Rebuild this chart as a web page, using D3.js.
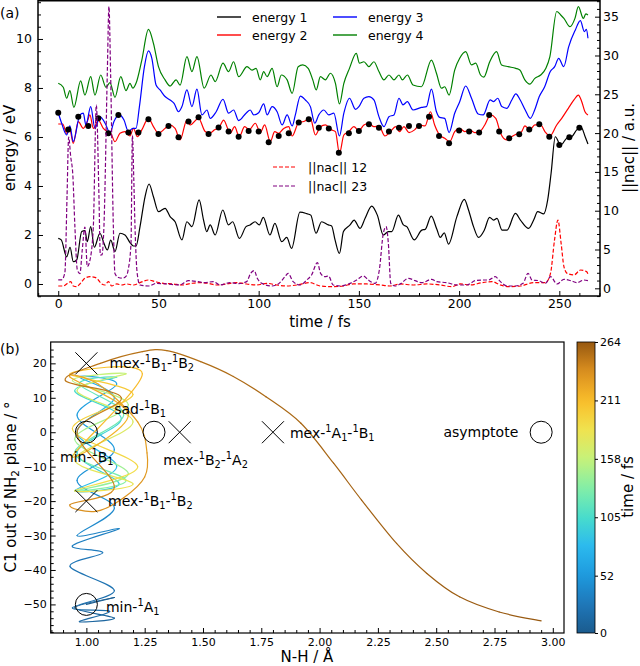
<!DOCTYPE html>
<html>
<head>
<meta charset="utf-8">
<script src="https://cdn.jsdelivr.net/npm/d3@7"></script>
<style>
  body { margin: 0; background: #fff; }
  text { font-family: "DejaVu Sans", sans-serif; fill: #000; }
</style>
</head>
<body>
<svg id="chart" width="640" height="666"></svg>
<script>
// ---------- panel (a): energies (eV) and nac norms (a.u.) vs time (fs) ----------
const energy1 = [[0,1.86],[1.5,1.8],[4.2,1.11],[5.9,1.5],[7.5,0.91],[9.2,0.98],[11.7,2.14],[13.3,2.18],[14.5,1.73],[16.2,2.34],[18,1.5],[20.8,2.07],[22.8,1.66],[24.5,1.39],[26.2,1.79],[28.3,1.32],[30.8,2.07],[33.3,2.0],[35.8,1.69],[37.5,1.55],[38.8,1.55],[40.8,2.34],[43.3,3.56],[45.3,4.08],[47.5,3.56],[50,2.95],[53.3,3.09],[55.8,2.75],[58.3,2.54],[61.7,1.8],[64.2,2.54],[66.7,2.34],[70.3,3.43],[72.5,2.61],[74.1,2.14],[75.8,2.41],[78.3,2.0],[82.1,3.02],[84.9,2.41],[87,2.54],[90.4,1.86],[93.7,2.34],[95.7,2.41],[98.2,2.54],[100.3,2.41],[102.3,2.72],[105.6,2.0],[108.1,2.47],[111.5,1.73],[114,1.9],[116.4,1.45],[120.6,2.93],[124,2.87],[126,2.81],[128.6,2.07],[131.4,2.54],[134.8,2.41],[136.4,2.37],[138.1,1.8],[140.3,1.25],[142.3,2.14],[145.6,2.41],[147.6,2.61],[150.6,2.27],[153.1,2.68],[156.4,3.18],[159.2,2.81],[162.2,2.0],[164.7,2.14],[166.4,2.14],[169.7,2.81],[172.2,2.41],[173.9,2.34],[177.6,1.8],[181.4,2.2],[183.1,2.23],[186.1,2.77],[188.9,2.23],[190.6,1.9],[192.6,2.09],[194.7,1.63],[198.9,2.75],[202.6,3.45],[204.7,3.02],[207.2,2.34],[209.7,1.9],[212.6,2.2],[215.2,2.72],[217.2,2.61],[218.9,2.68],[221.4,2.2],[223.9,2.2],[228.1,2.88],[230.6,2.61],[234.7,2.27],[237.2,2.61],[239.2,2.95],[242.2,2.86],[244.2,3.43],[245.9,4.52],[248,6.01],[250.7,5.67],[253.7,5.95],[256.2,6.01],[258.7,6.29],[260.9,6.39],[262.9,6.01],[264.3,5.71]];

const energy2 = [[0,6.53],[2.2,6.53],[4.2,6.15],[5.8,6.29],[7.5,5.74],[10,6.63],[12.5,6.35],[14.5,6.63],[15.8,6.9],[17.5,6.35],[20,6.69],[22.5,6.35],[24.5,6.22],[26.2,6.15],[28.3,5.81],[30.8,6.15],[33.3,6.22],[35.8,6.04],[37.5,6.35],[39.5,6.01],[41.7,6.29],[45,6.76],[47.5,6.42],[50,6.15],[53.3,6.35],[55.5,6.49],[58.3,6.35],[60.8,5.88],[64.2,6.69],[65.8,6.49],[70,6.76],[73.3,6.22],[75.5,6.15],[78,6.29],[80.5,6.42],[82.5,6.69],[85.8,6.15],[88,6.42],[90.3,6.01],[93,6.42],[95.3,6.29],[98.3,6.56],[100.8,6.18],[103,6.49],[105.8,5.81],[108,6.22],[110,6.15],[112.5,6.35],[115,6.42],[116.7,6.04],[120,6.59],[122.5,6.63],[125.8,6.76],[128.3,6.08],[130.8,6.42],[133.3,6.49],[136.3,6.29],[138.3,6.22],[140.3,5.33],[142.5,6.08],[145,6.22],[147.5,6.42],[150,6.26],[152.5,6.49],[155,6.56],[157.5,6.42],[160,6.45],[163,6.04],[165.8,6.22],[168.3,6.42],[170.3,6.22],[172.5,6.42],[175,6.18],[177.8,6.29],[180.3,6.49],[183,6.45],[185.7,7.03],[187.8,6.49],[190.3,6.08],[192.8,5.95],[195.3,5.81],[197.8,6.22],[200.3,6.35],[202.8,6.22],[205.3,6.29],[207.8,6.18],[210.3,6.22],[212.8,6.49],[215.7,6.9],[218.3,6.76],[220.7,6.15],[223.7,5.88],[226.2,6.01],[228.7,6.12],[231.2,6.22],[232.8,6.45],[235.3,6.29],[237.8,6.49],[240.7,6.49],[242.8,6.22],[245.3,6.04],[248.7,6.49],[251.2,6.76],[254.5,7.17],[257.3,7.51],[259.5,7.71],[261.2,7.44],[262.8,7.03],[264.3,6.9]];

const energy3 = [[0,6.99],[1.7,6.56],[4.2,6.08],[5.8,6.45],[7.5,5.81],[10.8,6.9],[12.5,6.97],[13.8,6.49],[16.2,7.24],[18.3,6.35],[20.8,6.83],[23.8,6.49],[25.8,6.15],[27.8,6.63],[30.5,6.9],[32.8,6.69],[35,6.22],[37.2,6.35],[38.8,6.35],[40.5,7.24],[43,8.87],[45,9.51],[46.7,9.21],[48.8,8.12],[50.8,7.92],[53.3,7.65],[55.8,7.51],[57.8,7.37],[60,7.03],[61.7,7.24],[64.2,7.92],[66.7,7.24],[69.2,7.95],[71.7,6.9],[74.2,7.1],[75.8,6.76],[78.8,7.03],[82.2,7.54],[85,6.97],[87.5,7.1],[90,6.67],[93.7,6.97],[95.8,7.1],[97.5,6.9],[100,6.99],[102.5,7.35],[104.2,6.9],[106.7,7.24],[109.2,7.03],[111.7,6.49],[114.2,6.9],[116.7,6.45],[118.3,6.9],[120.8,7.67],[123.3,7.51],[125.8,7.24],[128,6.56],[130,6.9],[132.5,7.1],[135,6.9],[137.5,6.97],[140.3,6.04],[142.5,6.97],[145.3,7.58],[148.3,7.13],[150,7.24],[152.5,7.58],[155,7.65],[157.5,7.51],[160,6.83],[162.5,6.42],[165,6.83],[167.5,6.9],[170,7.58],[172,7.31],[174.2,7.44],[177,7.1],[181.2,7.21],[183.7,7.24],[186.2,7.95],[188.7,7.03],[190.3,6.8],[192.8,6.76],[195,6.18],[197.8,6.97],[200.3,7.44],[203.3,8.08],[206.2,7.58],[209.5,6.94],[212,6.9],[215.5,7.51],[217.2,7.44],[219.3,7.58],[221.3,7.24],[223.8,7.17],[226.3,7.51],[228.3,7.76],[230.5,7.51],[233,7.1],[235.5,6.76],[237.7,7.1],[240,7.65],[242.7,8.05],[245.5,8.67],[247.7,8.87],[249.7,9.21],[252.2,8.87],[254.7,9.69],[258,10.37],[260.5,10.75],[262.5,10.3],[263.5,10.39],[264.3,10.03]];

const energy4 = [[0,8.19],[2.5,8.03],[4.2,7.58],[5.8,7.89],[7.8,7.21],[11.2,8.29],[13.3,7.71],[16.2,8.46],[18.3,7.71],[21.2,8.53],[23.8,8.03],[25.8,8.22],[28.3,7.62],[31.2,8.46],[33.8,7.89],[35.8,8.19],[37.2,7.99],[38.8,8.19],[41.7,9.14],[45,10.39],[47.5,9.82],[50,8.87],[53.3,8.33],[55.8,8.08],[58.8,8.33],[60.8,8.12],[64.2,9.28],[66.7,8.67],[69.2,9.28],[72.8,7.99],[76.2,8.53],[78.3,8.26],[82.2,9.01],[85,8.67],[87.5,9.07],[90,8.46],[94.2,8.87],[96.7,8.73],[98.7,8.8],[100.8,8.33],[102.5,8.67],[104.2,8.46],[106.7,8.8],[109.2,8.05],[111.3,8.53],[114.2,8.33],[116.7,7.78],[119.7,8.87],[122,8.94],[124.7,8.8],[127,8.33],[128.7,7.92],[130.8,8.46],[133.3,8.33],[135.8,8.6],[138.3,8.19],[140.3,7.35],[142.5,8.19],[145.3,8.8],[148.7,9.41],[150.3,9.01],[152.5,9.07],[155,8.87],[157.5,9.07],[160,8.67],[162.5,8.33],[165,8.53],[167.5,8.33],[170,8.53],[171.7,8.33],[174.2,8.53],[177,8.12],[181.2,8.05],[186.2,9.14],[188.7,8.6],[191.2,7.99],[192.8,8.05],[195,7.71],[197.8,8.73],[200.3,9.21],[203.3,9.48],[206.2,8.94],[208.3,9.01],[210.7,8.53],[212.3,8.44],[215.3,9.07],[218.7,9.48],[221.2,8.94],[224.5,8.87],[228.3,8.8],[230.3,8.73],[232.8,8.33],[235.3,8.16],[237.8,8.39],[240.7,8.53],[243.3,8.8],[245.3,9.28],[248.7,11.12],[250.7,10.98],[252.3,10.84],[255.3,10.5],[257.8,10.84],[259.5,11.32],[262,10.84],[263.2,11.02],[264.3,10.98]];

// energy of the active state, marked every 5 fs
const dotTimes = [0,5,10,15,20,25,30,35,40,45,50,55,60,65,70,75,80,85,90,95,100,105,110,115,120,125,130,135,140,145,150,155,160,165,170,175,180,185,190,195,200,205,210,215,220,225,230,235,240,245,250,255,260];
const dotEnergy = [6.99,6.31,6.83,6.45,6.76,6.15,6.9,6.18,6.18,6.72,6.12,6.45,5.99,6.63,6.8,6.12,6.39,6.22,6.01,6.24,6.22,5.78,6.04,6.15,6.59,6.72,6.38,6.35,5.36,6.15,6.24,6.52,6.38,6.22,6.38,6.45,6.45,6.83,6.04,5.74,6.26,6.22,6.18,6.9,6.22,5.95,6.11,6.31,6.52,6.01,5.67,5.99,6.38];

const nac12 = [[0,0.3],[2.5,0.3],[5,0.73],[6.2,0.86],[7.5,0.3],[9.2,0.21],[10.8,0.56],[13.3,1.29],[15.8,1.5],[18.3,1.42],[20,1.07],[21.7,0.56],[23.3,0.43],[25,0.86],[26.7,0.3],[29.2,0.56],[31.7,0.43],[34.2,0.56],[37.5,0.43],[40.8,0.73],[45,1.07],[48.3,0.86],[52.5,0.64],[57.4,0.56],[61.6,0.43],[66.6,0.64],[70.7,0.73],[74.9,0.64],[79,0.43],[84,0.56],[89,0.73],[94,0.56],[99,0.43],[104,0.64],[109,0.43],[114,0.3],[119,0.43],[125.6,0.73],[130.6,0.3],[137.2,0.21],[142.2,0.3],[147.2,0.56],[153.9,0.56],[160.5,0.43],[165.5,0.3],[170.6,0.56],[177.2,0.43],[183.9,0.56],[190.6,0.43],[196.4,0.21],[200.6,0.56],[205.6,0.43],[211.4,0.73],[216.4,0.86],[220.6,0.43],[224.7,0.21],[230.6,0.3],[237.2,0.73],[243.1,0.73],[245.6,1.93],[247.6,6.2],[249.3,8.8],[250.9,5.8],[252.3,2.8],[253.9,1.93],[257.3,1.72],[260.6,2.36],[263.6,2.15],[264.5,1.72]];

const nac23 = [[0,1.1],[1.7,1.1],[3.3,2.0],[4.4,12],[5.2,19.5],[6.2,17],[7.3,14.5],[8.3,8],[9.5,2.4],[10.8,1.9],[12,5],[13.3,7.9],[14.5,2.8],[15.8,3.6],[17.5,7.9],[19,23.6],[20.3,12],[21,4.3],[21.8,4.3],[22.8,8],[24.5,28],[25.3,36.3],[26.1,28],[27.5,7.9],[28.3,1.9],[30,1.4],[32,1.3],[34,1.6],[34.9,2.4],[36.3,5.8],[37,19.7],[37.7,14],[38.3,7.9],[39.4,1.9],[40.8,0.43],[45,0.3],[49,0.64],[54,0.56],[60.7,0.43],[64.9,0.99],[69.9,0.86],[73,0.73],[77.4,0.86],[80.7,0.43],[85.7,0.73],[90,0.6],[94,0.86],[96,1.93],[97.8,2.28],[99.3,1.29],[102.3,0.56],[106.4,0.3],[109.8,0.56],[113.1,1.5],[114.7,1.93],[117.2,0.86],[120.6,0.43],[124,1.07],[126.4,1.72],[129.3,3.3],[130.9,1.93],[133.1,1.5],[134.8,1.59],[137.2,0.43],[140.6,0.3],[145.6,0.64],[148.9,1.07],[152.2,1.59],[154.7,1.07],[158.1,0.64],[160.2,2.36],[162.2,7.1],[163.6,7.95],[164.7,5.8],[165.9,0.64],[168,0.3],[170.6,0.56],[174.7,1.29],[178,0.99],[181.4,0.73],[186.3,1.16],[188.9,0.86],[193.9,0.73],[198.9,0.43],[203.9,0.43],[208.1,0.99],[211.4,1.07],[214.7,1.07],[218,1.5],[220.6,0.86],[223.9,0.3],[228.1,0.3],[231.9,0.64],[234.4,1.93],[236.4,1.07],[239.7,0.99],[243.1,0.64],[245.6,1.5],[248.9,0.56],[252.3,1.16],[255.6,0.99],[258.9,0.73],[262.3,1.07],[264.5,0.99]];

const timeTicks = [0,50,100,150,200,250];
const energyTicks = [0,2,4,6,8,10];
const nacTicks = [0,5,10,15,20,25,30,35];

// ---------- panel (b): trajectory in N-H / out-of-plane space ----------
const trajTime  = [0,3,6,9,12,15,18,21,24,27,30,34,38,42,46,50,55,60,65,70,75,80,85,90,95,100,105,110,115,120,125,130,135,140,145,150,155,160,165,170,175,180,185,190,195,200,205,210,214,218,222,225,228,230,232,234,236,238,241,244,247,249,251,252,253,254,255,256,257,258,259,260,261,262,263,264];
const trajNH    = [1.00,1.12,0.95,1.12,0.97,1.10,0.94,1.12,0.93,1.07,0.94,1.14,0.96,1.12,0.96,1.12,0.96,1.13,0.97,1.12,0.96,1.13,0.95,1.14,0.96,1.15,0.95,1.13,0.97,1.16,0.95,1.17,0.96,1.18,0.95,1.18,0.94,1.17,0.96,1.20,0.95,1.20,0.95,1.22,0.94,1.20,0.93,1.24,0.94,1.18,0.93,1.05,1.22,1.26,1.25,1.16,1.04,0.93,1.12,0.96,1.15,0.91,1.06,1.24,1.345,1.49,1.63,1.77,1.92,2.06,2.18,2.33,2.46,2.60,2.77,2.95];
const trajAngle = [-50,-48,-51,-54,-55,-52,-51,-46,-39,-35,-33,-28,-30,-22,-14,-5,5,14,16,10,0,-10,-17,-15,-6,4,12,16,14,5,-6,-14,-17,-12,-2,8,15,17,12,3,-8,-15,-17,-10,1,11,17,17,-7,5,16,14,3,-6,-13,-19,-23,-21,-16,0,10,15,20,23.4,23.7,20.5,16.2,10.3,2.6,-9,-19.7,-32.3,-41,-47.8,-52.2,-54.8];

const crossNH = [1.0, 1.0, 1.4, 1.8];
const crossAngle = [20, -20, 0, 0];
const circleNH = [1.0, 1.29, 2.95, 1.0];
const circleAngle = [0, 0, 0, -50];
const pointNames = ["mex-^1B_1-^1B_2","sad-^1B_1","min-^1B_1","mex-^1B_2-^1A_2","mex-^1A_1-^1B_1","asymptote","mex-^1B_1-^1B_2","min-^1A_1"];
const nameNH    = [1.099, 1.119, 0.887, 1.33, 1.873, 2.531, 1.093, 1.084];
const nameAngle = [18.7, 5.3, -8.6, -9.5, -1.7, -1.4, -21.4, -52.2];

const nhTicks = [1.0,1.25,1.5,1.75,2.0,2.25,2.5,2.75,3.0];
const angleTicks = [-50,-40,-30,-20,-10,0,10,20];
const cbTicks = [0,52,105,158,211,264];
const cbStops  = [0,26,52,79,105,132,158,185,211,238,264];
const cbColors = ["#1b5b8e","#1f77b8","#1e99dd","#2cbaee","#48dccc","#84efa6","#c6f27a","#f1e24e","#f9bd2a","#d98e1f","#975810"];

// ---------- drawing ----------
const svg = d3.select("#chart");

// tiny helper for ^x superscripts and _x subscripts
function richText(sel, str, fs) {
  const parts = str.match(/\^.|_.|[^\^_]+/g);
  let shift = 0;
  parts.forEach(p => {
    let target = 0, txt = p, size = fs;
    if (p[0] === "^") { target = -0.42 * fs; txt = p.slice(1); size = fs * 0.7; }
    else if (p[0] === "_") { target = 0.22 * fs; txt = p.slice(1); size = fs * 0.7; }
    sel.append("tspan").attr("dy", target - shift).attr("font-size", size).text(txt);
    shift = target;
  });
}

// panel (a)
const xT = d3.scaleLinear().domain([-10.1, 270.3]).range([38, 600]);
const yE = d3.scaleLinear().domain([-0.49, 11.59]).range([296, 0]);
const yN = d3.scaleLinear().domain([-0.99, 37.15]).range([296, 0]);

const gA = svg.append("g");

function addAxis(g, axis, tr, fs) {
  const a = g.append("g").attr("transform", tr).call(axis);
  a.select(".domain").remove();
  a.selectAll("text").attr("font-size", fs).attr("font-family", "DejaVu Sans");
  a.selectAll("line").attr("stroke-width", 1);
  return a;
}

const minorTime = d3.range(-10, 271, 10).filter(v => v % 50 !== 0);
const minorE = d3.range(-0.5, 11.6, 0.5).filter(v => v % 2 !== 0);
const minorN = d3.range(-1, 37.1, 1).filter(v => v % 5 !== 0);

addAxis(gA, d3.axisBottom(xT).tickValues(timeTicks).tickSize(-5).tickPadding(3), "translate(0,296)", 12.5);
addAxis(gA, d3.axisBottom(xT).tickValues(minorTime).tickSize(-3).tickFormat(""), "translate(0,296)", 12.5);
addAxis(gA, d3.axisLeft(yE).tickValues(energyTicks).tickSize(-5).tickPadding(6), "translate(38,0)", 12.5);
addAxis(gA, d3.axisLeft(yE).tickValues(minorE).tickSize(-3).tickFormat(""), "translate(38,0)", 12.5);
addAxis(gA, d3.axisRight(yN).tickValues(nacTicks).tickSize(-5).tickPadding(3), "translate(600,0)", 12.5);
addAxis(gA, d3.axisRight(yN).tickValues(minorN).tickSize(-3).tickFormat(""), "translate(600,0)", 12.5);

const lineE = d3.line().x(d => xT(d[0])).y(d => yE(d[1])).curve(d3.curveMonotoneX);
const lineN = d3.line().x(d => xT(d[0])).y(d => yN(d[1])).curve(d3.curveMonotoneX);

const energySeries = [
  { data: energy1, color: "#000000", name: "energy 1" },
  { data: energy2, color: "#ff0000", name: "energy 2" },
  { data: energy3, color: "#0000ff", name: "energy 3" },
  { data: energy4, color: "#008000", name: "energy 4" }
];
energySeries.forEach(s => {
  gA.append("path").attr("d", lineE(s.data)).attr("fill", "none")
    .attr("stroke", s.color).attr("stroke-width", 1.2);
});

gA.selectAll(".dot").data(dotTimes).enter().append("circle")
  .attr("cx", d => xT(d)).attr("cy", (d, i) => yE(dotEnergy[i]))
  .attr("r", 3).attr("fill", "#000");

const nacSeries = [
  { data: nac12, color: "#ff0000", name: "||nac|| 12" },
  { data: nac23, color: "#800080", name: "||nac|| 23" }
];
nacSeries.forEach(s => {
  gA.append("path").attr("d", lineN(s.data)).attr("fill", "none")
    .attr("stroke", s.color).attr("stroke-width", 1.2).attr("stroke-dasharray", "4,2");
});

gA.append("rect").attr("x", 38).attr("y", 0.75).attr("width", 562).attr("height", 295.25)
  .attr("fill", "none").attr("stroke", "#000").attr("stroke-width", 1.5);

// legends
const legE = [[217, 17], [217, 35], [333, 17], [333, 35]];
energySeries.forEach((s, i) => {
  const [lx, ly] = legE[i];
  gA.append("line").attr("x1", lx).attr("x2", lx + 24).attr("y1", ly).attr("y2", ly)
    .attr("stroke", s.color).attr("stroke-width", 1.4);
  gA.append("text").attr("x", lx + 35).attr("y", ly + 4.5).attr("font-size", 12.5).text(s.name);
});
nacSeries.forEach((s, i) => {
  const ly = 167 + i * 19;
  gA.append("line").attr("x1", 273).attr("x2", 297).attr("y1", ly).attr("y2", ly)
    .attr("stroke", s.color).attr("stroke-width", 1.2).attr("stroke-dasharray", "4,2");
  gA.append("text").attr("x", 308).attr("y", ly + 4.5).attr("font-size", 12.5).text(s.name);
});

gA.append("text").attr("x", 320).attr("y", 327).attr("text-anchor", "middle")
  .attr("font-size", 15).text("time / fs");
gA.append("text").attr("transform", "translate(15,148) rotate(-90)").attr("text-anchor", "middle")
  .attr("font-size", 15).text("energy / eV");
gA.append("text").attr("transform", "translate(634,148) rotate(-90)").attr("text-anchor", "middle")
  .attr("font-size", 15).text("||nac|| / a.u.");
gA.append("text").attr("x", 0).attr("y", 18).attr("font-size", 14).text("(a)");

// panel (b)
const xB = d3.scaleLinear().domain([0.847, 3.048]).range([50.7, 564]);
const yB = d3.scaleLinear().domain([-58.3, 26.2]).range([633, 342]);
const cbY = d3.scaleLinear().domain([0, 264]).range([633, 342]);
const cmap = d3.scaleLinear().domain(cbStops).range(cbColors).interpolate(d3.interpolateRgb);

const gB = svg.append("g");

const minorNH = d3.range(0.85, 3.05, 0.05).filter(v => Math.abs(v * 4 - Math.round(v * 4)) > 0.01);
const minorAng = d3.range(-58, 26, 2).filter(v => v % 10 !== 0);
addAxis(gB, d3.axisBottom(xB).tickValues(nhTicks).tickSize(-5).tickPadding(5).tickFormat(d3.format(".2f")), "translate(0,633)", 11);
addAxis(gB, d3.axisBottom(xB).tickValues(minorNH).tickSize(-3).tickFormat(""), "translate(0,633)", 11);
addAxis(gB, d3.axisLeft(yB).tickValues(angleTicks).tickSize(-5).tickPadding(4), "translate(50.7,0)", 11);
addAxis(gB, d3.axisLeft(yB).tickValues(minorAng).tickSize(-3).tickFormat(""), "translate(50.7,0)", 11);

// trajectory: one smooth (Catmull-Rom) piece per time step, coloured by time
const pts = trajTime.map((t, i) => [xB(trajNH[i]), yB(trajAngle[i]), t]);
for (let i = 0; i < pts.length - 1; i++) {
  const p0 = pts[Math.max(i - 1, 0)], p1 = pts[i], p2 = pts[i + 1], p3 = pts[Math.min(i + 2, pts.length - 1)];
  const c1 = [p1[0] + (p2[0] - p0[0]) / 6, p1[1] + (p2[1] - p0[1]) / 6];
  const c2 = [p2[0] - (p3[0] - p1[0]) / 6, p2[1] - (p3[1] - p1[1]) / 6];
  gB.append("path")
    .attr("d", "M" + p1[0] + "," + p1[1] + "C" + c1 + " " + c2 + " " + p2[0] + "," + p2[1])
    .attr("fill", "none").attr("stroke", cmap((p1[2] + p2[2]) / 2))
    .attr("stroke-width", 1.2).attr("stroke-linecap", "round");
}

crossNH.forEach((v, i) => {
  const cx = xB(v), cy = yB(crossAngle[i]), s = 11;
  gB.append("path").attr("d", `M${cx - s},${cy - s}L${cx + s},${cy + s}M${cx - s},${cy + s}L${cx + s},${cy - s}`)
    .attr("stroke", "#000").attr("stroke-width", 1);
});
circleNH.forEach((v, i) => {
  gB.append("circle").attr("cx", xB(v)).attr("cy", yB(circleAngle[i])).attr("r", 11)
    .attr("fill", "none").attr("stroke", "#000").attr("stroke-width", 1);
});
pointNames.forEach((n, i) => {
  const t = gB.append("text").attr("x", xB(nameNH[i])).attr("y", yB(nameAngle[i])).attr("font-size", 14);
  richText(t, n, 14);
});

gB.append("rect").attr("x", 50.7).attr("y", 342).attr("width", 513.3).attr("height", 291)
  .attr("fill", "none").attr("stroke", "#000").attr("stroke-width", 1.2);

gB.append("text").attr("x", 307).attr("y", 662).attr("text-anchor", "middle")
  .attr("font-size", 15).text("N-H / Å");
const yl = gB.append("text").attr("transform", "translate(16,487) rotate(-90)").attr("text-anchor", "middle")
  .attr("font-size", 15);
richText(yl, "C1 out of NH_2 plane / °", 15);
gB.append("text").attr("x", 0).attr("y", 354).attr("font-size", 14).text("(b)");

// colorbar
const grad = svg.append("defs").append("linearGradient").attr("id", "cbgrad")
  .attr("x1", 0).attr("y1", 1).attr("x2", 0).attr("y2", 0);
d3.range(0, 265, 8).concat([264]).forEach(v => {
  grad.append("stop").attr("offset", v / 264).attr("stop-color", cmap(v));
});
gB.append("rect").attr("x", 577).attr("y", 342).attr("width", 18).attr("height", 291)
  .attr("fill", "url(#cbgrad)").attr("stroke", "#000").attr("stroke-width", 0.8);
addAxis(gB, d3.axisRight(cbY).tickValues(cbTicks).tickSize(3).tickPadding(2), "translate(595,0)", 11);
gB.append("text").attr("transform", "translate(633,487) rotate(-90)").attr("text-anchor", "middle")
  .attr("font-size", 15).text("time / fs");
</script>
</body>
</html>
